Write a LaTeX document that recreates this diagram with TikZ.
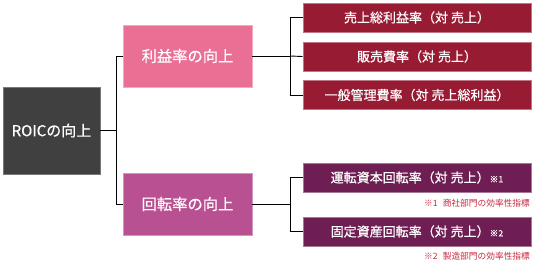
\documentclass[tikz,border=0pt]{standalone}
\usepackage{fontspec}
\setmainfont{Noto Sans CJK JP}
\newfontfamily\jpmed[FakeBold=0.6]{Noto Sans CJK JP}
\definecolor{roicgray}{RGB}{64,64,64}
\definecolor{pinkbox}{RGB}{234,111,148}
\definecolor{magbox}{RGB}{185,80,145}
\definecolor{redbox}{RGB}{152,27,52}
\definecolor{purplebox}{RGB}{110,30,82}
\definecolor{notered}{RGB}{200,40,60}
\tikzset{
  base/.style={text=white, inner sep=0pt, align=center},
  roicbox/.style={base, fill=roicgray, draw=roicgray!70!white, line width=0.6pt, minimum width=97pt, minimum height=87pt, font=\jpmed\fontsize{15}{17}\selectfont},
  midbox/.style={base, minimum width=129pt, minimum height=62pt, line width=0.6pt, font=\jpmed\fontsize{15.3}{17}\selectfont},
  leafbox/.style={base, minimum width=228pt, minimum height=29pt, line width=0.6pt, font=\jpmed\fontsize{13}{15}\selectfont},
  conn/.style={draw=black, line width=0.9pt},
  note/.style={text=notered, inner sep=0pt, anchor=east, font=\fontsize{8.7}{10}\selectfont},
}
\begin{document}
\begin{tikzpicture}[x=1pt,y=-1pt]
\useasboundingbox (0,0) rectangle (533,262);
\node[roicbox] (roic) at (51.5,130.5) {ROICの向上};
\node[midbox, fill=pinkbox, draw=pinkbox!60!white] (profit) at (187.5,56) {利益率の向上};
\node[midbox, fill=magbox, draw=magbox!60!white] (turn) at (187.5,204) {回転率の向上};
\node[leafbox, fill=redbox, draw=redbox!60!white] (r1) at (417,17.5) {売上総利益率（対 売上）};
\node[leafbox, fill=redbox, draw=redbox!60!white] (r2) at (417,56.5) {販売費率（対 売上）};
\node[leafbox, fill=redbox, draw=redbox!60!white] (r3) at (417,95) {一般管理費率（対 売上総利益）};
\node[leafbox, fill=purplebox, draw=purplebox!60!white] (r4) at (417,177.5) {運転資本回転率（対 売上）{\fontsize{8.8}{10}\selectfont ※1}};
\node[leafbox, fill=purplebox, draw=purplebox!60!white] (r5) at (417,231.5) {固定資産回転率（対 売上）{\fontsize{8.8}{10}\selectfont ※2}};
\node[note] (n1) at (530,203) {※1\hspace{0.6em}商社部門の効率性指標};
\node[note] (n2) at (530,256) {※2\hspace{0.6em}製造部門の効率性指標};
\coordinate (j1) at (116,130.5);
\coordinate (j2) at (290,56);
\coordinate (j3) at (290,204);
\path[conn] (roic.east) -- (j1);
\path[conn] (profit.west) -| (j1);
\path[conn] (turn.west) -| (j1);
\path[conn] (profit.east) -- (j2);
\path[conn] (r1.west) -| (j2);
\path[conn] (r2.west) -- (j2);
\path[conn] (r3.west) -| (j2);
\path[conn] (turn.east) -- (j3);
\path[conn] (r4.west) -| (j3);
\path[conn] (r5.west) -| (j3);
\end{tikzpicture}
\end{document}
